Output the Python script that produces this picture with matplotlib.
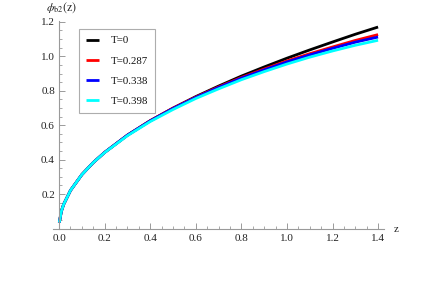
import matplotlib
matplotlib.use("Agg")
import matplotlib.pyplot as plt
from matplotlib.ticker import MultipleLocator, FixedLocator

plt.rcParams['font.family'] = ['Liberation Serif', 'DejaVu Serif']
plt.rcParams['mathtext.fontset'] = 'stix'

z = [0.001, 0.01, 0.02, 0.05, 0.1, 0.15, 0.2, 0.3, 0.4, 0.5, 0.6, 0.7, 0.8, 0.9, 1.0, 1.1, 1.2, 1.3, 1.4]
phi_T0 = [0.035, 0.100, 0.140, 0.221, 0.313, 0.383, 0.442, 0.542, 0.626, 0.699, 0.766, 0.827, 0.885, 0.938, 0.989, 1.037, 1.083, 1.128, 1.170]
phi_T0287 = [0.035, 0.100, 0.140, 0.221, 0.313, 0.383, 0.442, 0.542, 0.626, 0.699, 0.763, 0.822, 0.877, 0.926, 0.973, 1.015, 1.054, 1.092, 1.126]
phi_T0338 = [0.035, 0.100, 0.140, 0.221, 0.313, 0.383, 0.442, 0.542, 0.625, 0.697, 0.761, 0.819, 0.873, 0.921, 0.967, 1.008, 1.046, 1.082, 1.112]
phi_T0398 = [0.035, 0.100, 0.140, 0.221, 0.313, 0.383, 0.441, 0.539, 0.621, 0.691, 0.755, 0.811, 0.864, 0.911, 0.955, 0.995, 1.031, 1.064, 1.093]
labels = ['T=0', 'T=0.287', 'T=0.338', 'T=0.398']
colors = ['#000000', '#ff0000', '#0000ff', '#00ffff']
xticks = [0.0, 0.2, 0.4, 0.6, 0.8, 1.0, 1.2, 1.4]
yticks = [0.2, 0.4, 0.6, 0.8, 1.0, 1.2]

W, H = 436, 297
fig = plt.figure(figsize=(W / 100, H / 100), dpi=100)
ax = fig.add_axes([52.7 / W, 1 - 228.5 / H, (384 - 52.7) / W, (228.5 - 21) / H])

series = [phi_T0, phi_T0287, phi_T0338, phi_T0398]
handles = []
for vals, c, lab in zip(series, colors, labels):
    h, = ax.plot(z, vals, color=c, lw=2.0, label=lab, solid_capstyle='butt')
    handles.append(h)

ax.set_xlim(-0.028, 1.426)
ax.set_ylim(0, 1.205)

for s in ['top', 'right']:
    ax.spines[s].set_visible(False)
ax.spines['left'].set_position(('data', 0))
ax.spines['bottom'].set_position(('data', 0))
for s in ['left', 'bottom']:
    ax.spines[s].set_color('#9a9a9a')
    ax.spines[s].set_linewidth(0.8)
ax.spines['left'].set_bounds(0, 1.205)

ax.xaxis.set_major_locator(FixedLocator(xticks))
ax.set_xticklabels(['%.1f' % v for v in xticks])
ax.yaxis.set_major_locator(FixedLocator(yticks))
ax.set_yticklabels(['%.1f' % v for v in yticks])
ax.xaxis.set_minor_locator(MultipleLocator(0.05))
ax.yaxis.set_minor_locator(MultipleLocator(0.05))
ax.tick_params(which='major', direction='in', length=4, width=0.7, color='#9a9a9a',
               labelsize=8, labelcolor='#222222', pad=3)
ax.tick_params(which='minor', direction='in', length=2, width=0.6, color='#9a9a9a')
ax.tick_params(axis='x', which='major', pad=4)

fig.text(46 / W, 1 - 8 / H, r'$\phi_{\mathrm{b2}}\mathrm{(z)}$', fontsize=8.5,
         ha='left', va='center', color='#222222')
fig.text(394 / W, 1 - 229 / H, 'z', fontsize=8, ha='left', va='center', color='#222222')

leg = ax.legend(handles=handles, loc='upper left',
                bbox_to_anchor=(79 / W, 1 - 29 / H), bbox_transform=fig.transFigure,
                fontsize=7.8, frameon=True, fancybox=False, borderaxespad=0,
                handlelength=1.2, handletextpad=1.1, labelspacing=0.98, borderpad=0.62)
leg.get_frame().set_edgecolor('#999999')
leg.get_frame().set_linewidth(0.8)
for t in leg.get_texts():
    t.set_color('#111111')

fig.savefig('out.png', dpi=100)
